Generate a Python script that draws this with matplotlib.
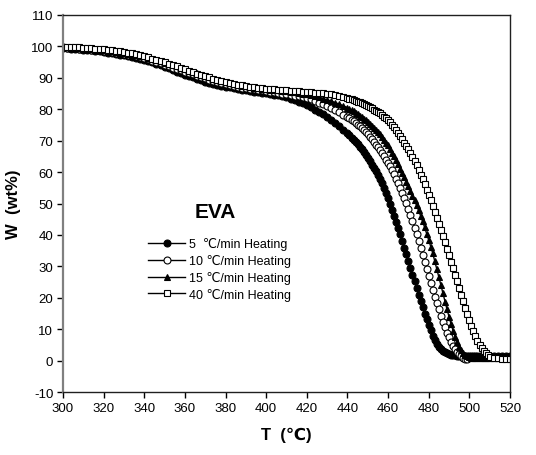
import matplotlib
matplotlib.use("Agg")
import matplotlib.pyplot as plt

plt.rcParams['font.family'] = ['Liberation Sans', 'DejaVu Sans']
plt.rcParams['axes.unicode_minus'] = False

# temperature grid (°C)
temps = list(range(300, 441, 2)) + list(range(441, 511)) + list(range(512, 521, 2))

w_5 = [99.5, 99.4, 99.3, 99.2, 99.1, 99.0, 98.9, 98.7, 98.6, 98.4,
       98.2, 98.0, 97.8, 97.6, 97.4, 97.2, 96.9, 96.7, 96.4, 96.1,
       95.8, 95.4, 95.0, 94.5, 94.0, 93.5, 93.0, 92.5, 92.0, 91.5,
       91.0, 90.5, 90.1, 89.6, 89.2, 88.8, 88.5, 88.1, 87.8, 87.5,
       87.2, 87.0, 86.7, 86.5, 86.2, 86.0, 85.8, 85.6, 85.4, 85.3,
       85.1, 84.9, 84.6, 84.4, 84.1, 83.8, 83.4, 82.9, 82.4, 81.9,
       81.3, 80.6, 79.9, 79.2, 78.4, 77.5, 76.6, 75.6, 74.6, 73.5,
       72.3,
       71.7, 71.0, 70.3, 69.6, 68.8, 68.0, 67.2, 66.3, 65.4, 64.5,
       63.5, 62.4, 61.3, 60.2, 59.0, 57.8, 56.4, 54.9, 53.3, 51.6,
       49.8, 48.0, 46.1, 44.2, 42.2, 40.2, 38.1, 36.0, 33.9, 31.8,
       29.6, 27.4, 25.2, 23.1, 21.0, 19.0, 17.0, 15.0, 13.1, 11.3,
       9.6, 8.0, 6.6, 5.4, 4.4, 3.6, 3.0, 2.6, 2.3, 2.1,
       1.9, 1.8, 1.7, 1.6, 1.5, 1.5, 1.5, 1.5, 1.5, 1.5,
       1.5, 1.5, 1.5, 1.5, 1.5, 1.5, 1.5, 1.5, 1.5, 1.5,
       1.5, 1.5, 1.5, 1.5, 1.5]

w_10 = [99.7, 99.6, 99.5, 99.4, 99.3, 99.2, 99.1, 99.0, 98.9, 98.8,
        98.6, 98.4, 98.2, 98.0, 97.8, 97.6, 97.3, 97.1, 96.8, 96.6,
        96.3, 95.9, 95.5, 95.0, 94.6, 94.1, 93.7, 93.2, 92.8, 92.4,
        92.0, 91.5, 91.1, 90.6, 90.2, 89.8, 89.4, 89.1, 88.7, 88.3,
        88.0, 87.7, 87.4, 87.2, 86.9, 86.7, 86.5, 86.3, 86.1, 86.0,
        85.8, 85.6, 85.4, 85.2, 85.0, 84.8, 84.6, 84.3, 84.1, 83.8,
        83.5, 83.1, 82.6, 82.1, 81.6, 81.0, 80.4, 79.7, 79.0, 78.3,
        77.5,
        77.1, 76.6, 76.1, 75.6, 75.1, 74.6, 74.0, 73.4, 72.7, 72.0,
        71.2, 70.4, 69.6, 68.7, 67.9, 67.0, 66.0, 65.0, 64.0, 63.0,
        61.8, 60.6, 59.3, 57.9, 56.5, 55.0, 53.4, 51.8, 50.1, 48.3,
        46.4, 44.4, 42.3, 40.2, 38.0, 35.8, 33.6, 31.4, 29.2, 27.0,
        24.8, 22.6, 20.4, 18.3, 16.3, 14.3, 12.4, 10.6, 8.9, 7.4,
        6.0, 4.8, 3.7, 2.8, 2.0, 1.4, 0.9, 0.6, 0.4]

w_15 = [99.8, 99.7, 99.6, 99.5, 99.4, 99.3, 99.2, 99.1, 99.0, 98.9,
        98.8, 98.6, 98.4, 98.2, 98.0, 97.8, 97.6, 97.4, 97.2, 97.0,
        96.8, 96.4, 96.0, 95.6, 95.2, 94.8, 94.4, 94.0, 93.6, 93.2,
        92.8, 92.3, 91.9, 91.4, 91.0, 90.5, 90.1, 89.7, 89.3, 88.9,
        88.6, 88.3, 88.0, 87.7, 87.5, 87.3, 87.1, 86.9, 86.7, 86.5,
        86.3, 86.2, 86.1, 86.0, 85.8, 85.7, 85.6, 85.4, 85.2, 85.0,
        84.8, 84.5, 84.2, 83.8, 83.4, 83.0, 82.6, 82.1, 81.6, 81.1,
        80.5,
        80.1, 79.7, 79.3, 78.9, 78.4, 78.0, 77.5, 77.0, 76.5, 76.0,
        75.4, 74.8, 74.1, 73.4, 72.7, 72.0, 71.2, 70.3, 69.4, 68.5,
        67.4, 66.2, 65.0, 63.8, 62.5, 61.1, 59.7, 58.3, 56.9, 55.5,
        54.0, 52.5, 51.0, 49.4, 47.8, 46.1, 44.3, 42.4, 40.4, 38.4,
        36.3, 34.1, 31.6, 29.1, 26.6, 24.0, 21.4, 18.8, 16.3, 13.9,
        11.6, 9.5, 7.6, 5.9, 4.5, 3.4, 2.5, 1.9, 1.5, 1.2,
        1.0, 0.9, 0.9, 0.9, 0.9, 0.9, 0.9, 0.9, 0.9, 0.9,
        0.9, 0.9, 0.9, 0.9, 0.9]

w_40 = [99.9, 99.9, 99.8, 99.8, 99.7, 99.6, 99.5, 99.4, 99.3, 99.2,
        99.1, 99.0, 98.8, 98.6, 98.4, 98.2, 98.0, 97.8, 97.5, 97.2,
        96.9, 96.5, 96.1, 95.7, 95.3, 94.9, 94.5, 94.1, 93.6, 93.2,
        92.7, 92.2, 91.8, 91.3, 90.9, 90.5, 90.1, 89.7, 89.3, 89.0,
        88.7, 88.4, 88.1, 87.8, 87.6, 87.4, 87.2, 87.0, 86.8, 86.7,
        86.5, 86.4, 86.3, 86.2, 86.1, 86.0, 85.9, 85.8, 85.7, 85.6,
        85.5, 85.4, 85.3, 85.2, 85.1, 85.0, 84.8, 84.6, 84.3, 84.0,
        83.7,
        83.4, 83.2, 82.9, 82.7, 82.4, 82.2, 81.9, 81.6, 81.3, 81.0,
        80.6, 80.3, 79.9, 79.5, 79.1, 78.7, 78.2, 77.6, 77.1, 76.5,
        75.8, 75.1, 74.3, 73.4, 72.5, 71.5, 70.5, 69.4, 68.3, 67.2,
        66.0, 64.8, 63.5, 62.1, 60.7, 59.2, 57.7, 56.1, 54.4, 52.7,
        51.0, 49.2, 47.4, 45.5, 43.6, 41.6, 39.6, 37.6, 35.6, 33.6,
        31.5, 29.4, 27.3, 25.2, 23.1, 21.0, 18.9, 16.9, 14.9, 12.9,
        11.0, 9.3, 7.7, 6.3, 5.0, 3.9, 3.0, 2.3, 1.7, 1.3,
        0.8, 0.7, 0.6, 0.6, 0.6]

labels = ["5  \u2103/min Heating", "10 \u2103/min Heating",
          "15 \u2103/min Heating", "40 \u2103/min Heating"]
x_ticks = list(range(300, 521, 20))
y_ticks = list(range(-10, 111, 10))

fig = plt.figure(figsize=(5.36, 4.56), dpi=100)
ax = fig.add_axes([0.1175, 0.138, 0.834, 0.827])

series = [w_5, w_10, w_15, w_40]
styles = [dict(marker='o', markerfacecolor='black'),
          dict(marker='o', markerfacecolor='white'),
          dict(marker='^', markerfacecolor='black'),
          dict(marker='s', markerfacecolor='white')]
for w, st, lab in zip(series, styles, labels):
    ax.plot(temps[:len(w)], w, color='black', linewidth=1.0,
            markeredgecolor='black', markersize=5, markeredgewidth=0.8,
            label=lab, **st)

ax.set_xlim(300, 520)
ax.set_ylim(-10, 110)
ax.set_xticks(x_ticks)
ax.set_yticks(y_ticks)
ax.tick_params(direction='out', length=4, width=1, labelsize=9.5,
               top=False, right=False, pad=3)
ax.spines['left'].set_color('#808080')
ax.spines['left'].set_linewidth(1.6)
for s in ['top', 'right', 'bottom']:
    ax.spines[s].set_color('#202020')
    ax.spines[s].set_linewidth(1.0)

ax.set_xlabel("T  (\u2103)", fontsize=12, fontweight='bold', labelpad=9)
ax.set_ylabel("W  (wt%)", fontsize=12, fontweight='bold', labelpad=7)

ax.text(365, 47.5, "EVA", fontsize=15, fontweight='bold', va='center', ha='left')

leg = ax.legend(loc='upper left', bbox_to_anchor=(0.19, 0.41), frameon=False,
                fontsize=9, handlelength=3.0, handletextpad=0.3,
                labelspacing=0.3, borderpad=0.0, borderaxespad=0.0)

fig.savefig("out.png", dpi=100)
